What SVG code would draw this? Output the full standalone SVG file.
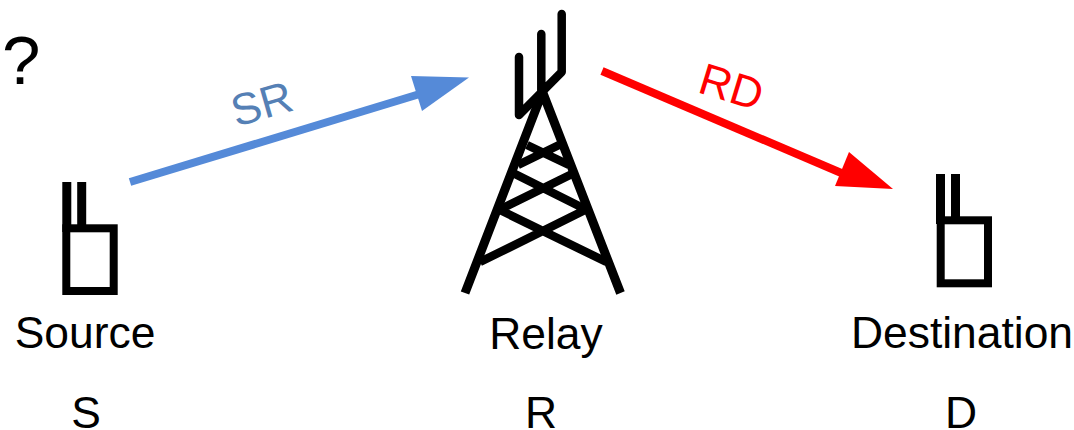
<svg xmlns="http://www.w3.org/2000/svg" width="1074" height="430" viewBox="0 0 1074 430">
<style>
text{font-family:"Liberation Sans",Arial,sans-serif;font-size:44.4px;fill:#000}
.ic{fill:none;stroke:#000;stroke-width:8}
.ant{fill:none;stroke:#000;stroke-width:9}
.leg{fill:none;stroke:#000;stroke-width:9}
.mast{fill:none;stroke:#000;stroke-width:8.500;stroke-linecap:round;stroke-linejoin:round}
</style>
<rect width="1074" height="430" fill="#fff"/>
<text style="font-size:69px"><tspan x="-15" y="78">.</tspan><tspan x="2" y="84">?</tspan></text>
<g id="source" class="node">
<rect class="ic" x="66.300" y="228.300" width="47.400" height="62.700"/>
<path class="ant" d="M66.800 182V232M81.700 182V228"/>
<text x="85" y="348" text-anchor="middle">Source</text>
<text x="86" y="428" text-anchor="middle">S</text>
</g>
<g id="relay" class="node">
<path class="leg" d="M542.500 92L465 293M542.500 92L620.500 293"/>
<path class="mast" style="stroke-linecap:butt" d="M480 262L585 210M606.500 262L500 210M503 208L574 173M583 208L513 173M518 165L559 145M569 165L527 145"/>
<path class="mast" d="M519 57V115L561.700 72V14M541.300 34V95"/>
<text x="546" y="349" text-anchor="middle">Relay</text>
<text x="541" y="428" text-anchor="middle">R</text>
</g>
<g id="destination" class="node">
<rect class="ic" x="940.700" y="220.300" width="47.300" height="63"/>
<path class="ant" d="M940.500 174V224M955.500 174V220"/>
<text x="962" y="348" text-anchor="middle">Destination</text>
<text x="961" y="428" text-anchor="middle">D</text>
</g>
<g id="connectors">
<path d="M130 182L423 93" fill="none" stroke="#558ad8" stroke-width="8"/>
<path d="M469 77.500L411 76L422 111Z" fill="#558ad8"/>
<path d="M602 71L846 175" fill="none" stroke="#ff0000" stroke-width="8"/>
<path d="M893 189L849 152L835 186Z" fill="#ff0000"/>
<text x="262" y="119" text-anchor="middle" transform="rotate(-16 262 105)" style="fill:#5580b5">SR</text>
<text x="731" y="102" text-anchor="middle" transform="rotate(17 731 88)" style="fill:#ff0000">RD</text>
</g>
</svg>
